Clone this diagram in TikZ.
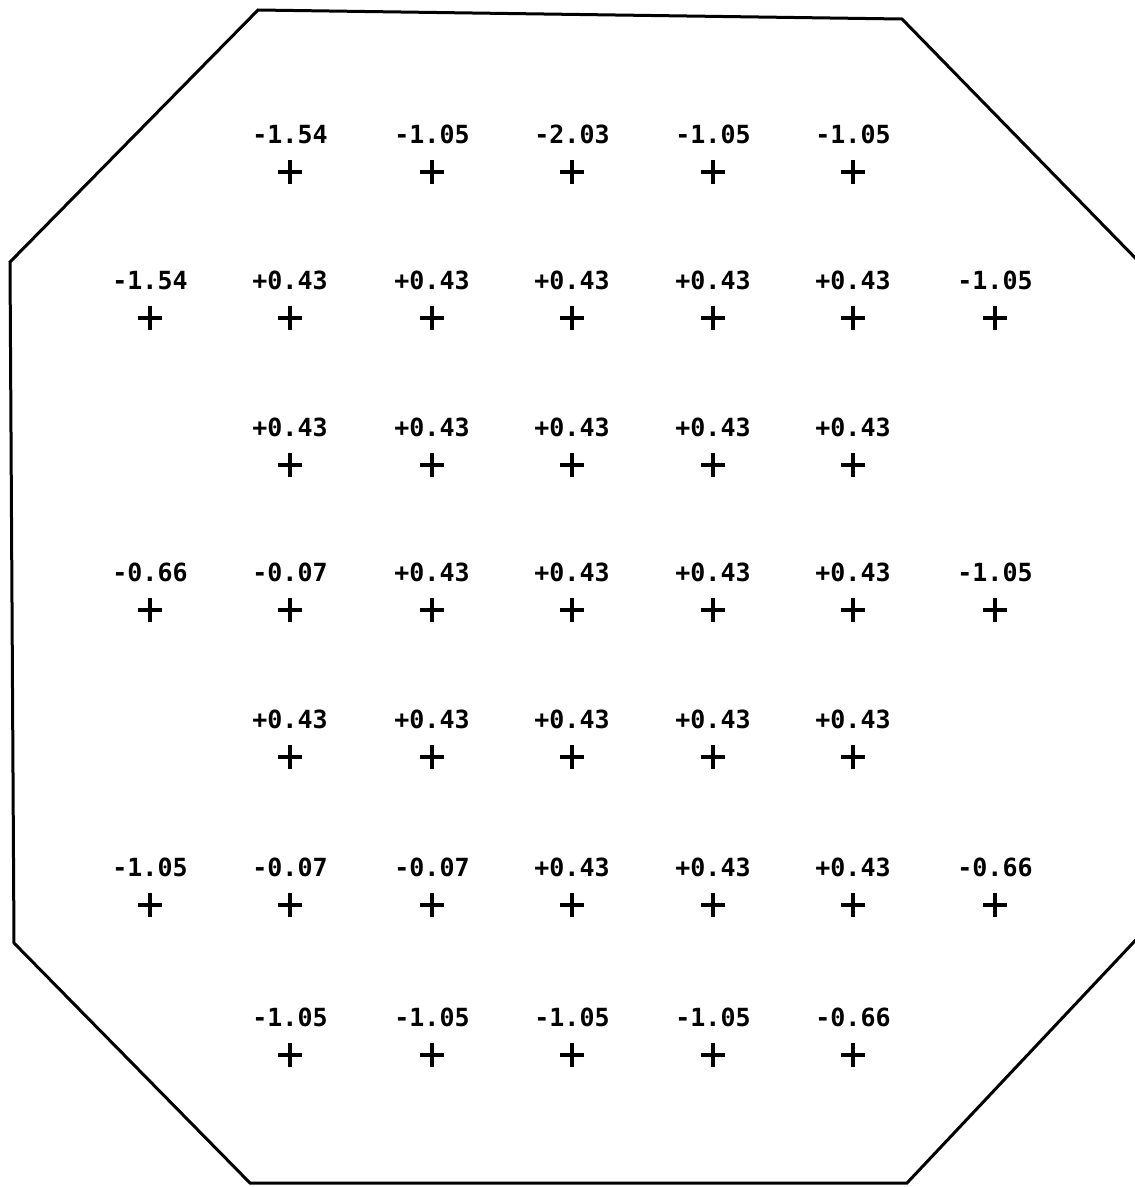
\documentclass[tikz,border=0pt]{standalone}
\usepackage{fontspec}
\setmonofont{DejaVu Sans Mono}
\usetikzlibrary{positioning}

\tikzset{
  cross/.style={line width=3.2pt, line cap=butt},
  reading/.style={font=\ttfamily\bfseries\fontsize{25}{25}\selectfont, anchor=base, inner sep=0pt},
  outline/.style={line width=3pt, line join=miter}
}

\begin{document}
\begin{tikzpicture}[x=1pt, y=-1pt]
  \useasboundingbox (0,0) rectangle (1135,1187);
  \fill[white] (0,0) rectangle (1135,1187);

  % Octagonal outline (right edge lies just outside the frame)
  \draw[outline] (258,10) -- (902,19) -- (1147,270) -- (1147,928)
    -- (907,1183) -- (250,1183) -- (14,943) -- (10,262) -- cycle;

  % Grid of measuring points: row/y/{column/value}
  \foreach \r/\y/\cells in {
      1/172/{2/-1.54,3/-1.05,4/-2.03,5/-1.05,6/-1.05},
      2/318/{1/-1.54,2/+0.43,3/+0.43,4/+0.43,5/+0.43,6/+0.43,7/-1.05},
      3/465/{2/+0.43,3/+0.43,4/+0.43,5/+0.43,6/+0.43},
      4/610/{1/-0.66,2/-0.07,3/+0.43,4/+0.43,5/+0.43,6/+0.43,7/-1.05},
      5/757/{2/+0.43,3/+0.43,4/+0.43,5/+0.43,6/+0.43},
      6/905/{1/-1.05,2/-0.07,3/-0.07,4/+0.43,5/+0.43,6/+0.43,7/-0.66},
      7/1055/{2/-1.05,3/-1.05,4/-1.05,5/-1.05,6/-0.66}} {
    \foreach \c/\v in \cells {
      \pgfmathsetmacro{\x}{{0,150,290,432,572,713,853,995}[\c]}
      \coordinate (p-\r-\c) at (\x,\y);
      \draw[cross] ([xshift=-12pt]p-\r-\c) -- ([xshift=12pt]p-\r-\c);
      \draw[cross] ([yshift=12pt]p-\r-\c) -- ([yshift=-12pt]p-\r-\c);
      \node[reading] (v-\r-\c) at ([yshift=29pt]p-\r-\c) {\v};
    }
  }
\end{tikzpicture}
\end{document}
